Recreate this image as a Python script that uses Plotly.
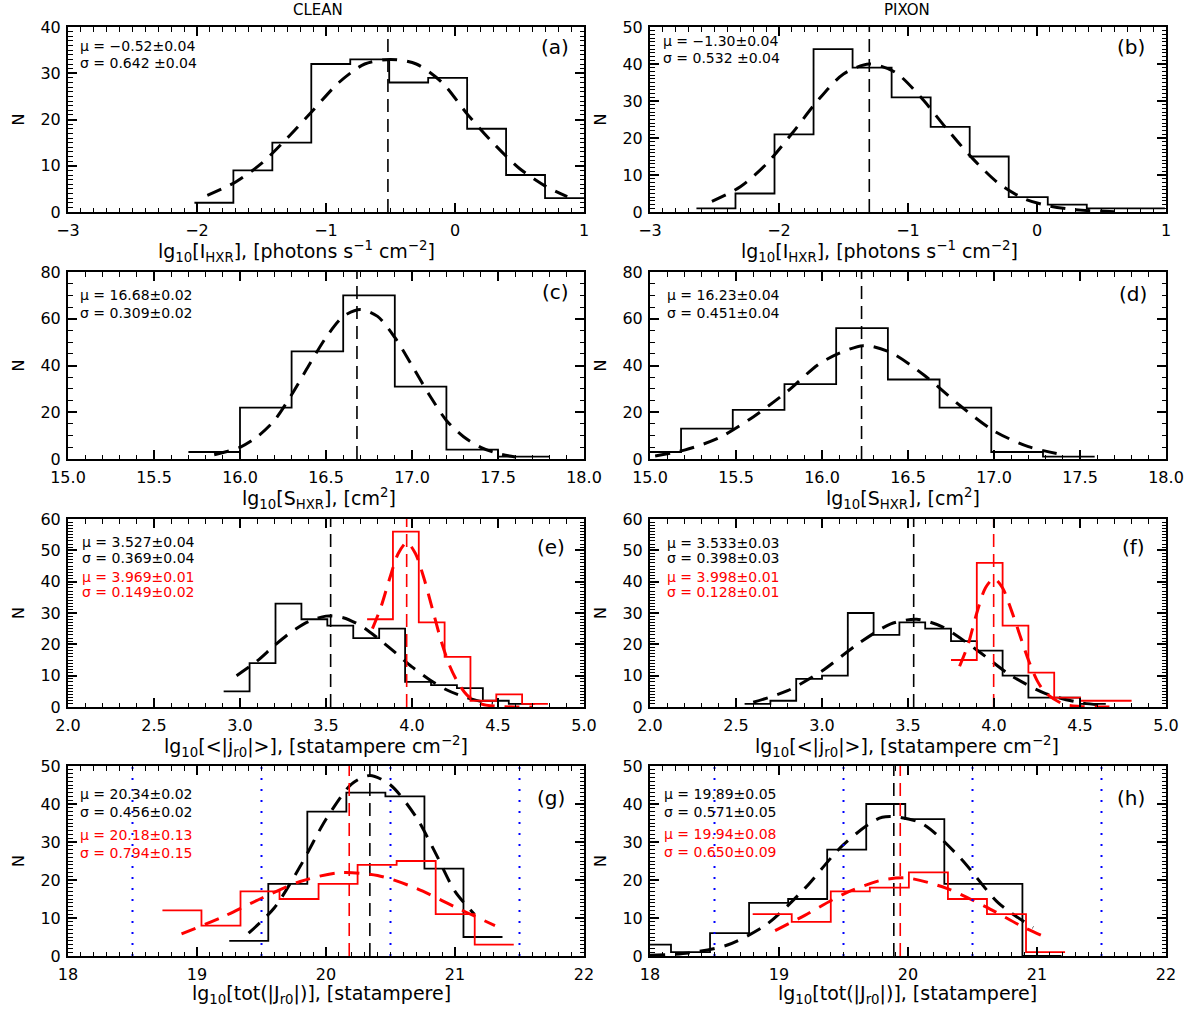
import plotly.graph_objects as go

W, H = 1190, 1012
FONT = "DejaVu Sans, Liberation Sans, Arial, sans-serif"

# ------------------------------------------------------------------ data
a_black_start, a_black_width = -2.02, 0.302
a_black_counts = [2, 9, 15, 32, 33, 28, 29, 18, 8, 3]
a_fit_x = [-1.92, -1.7, -1.5, -1.3, -1.1, -0.9, -0.7, -0.5, -0.3, -0.1, 0.1, 0.3, 0.5, 0.7, 0.87]
a_fit_y = [3.6, 6.5, 10.5, 16, 22, 28, 32, 33, 32, 28, 21, 14.8, 9.4, 5.6, 3.3]
a_mean = -0.52

b_black_start, b_black_width = -2.64, 0.3026
b_black_counts = [1, 5, 21, 44, 39, 31, 23, 15, 4, 2, 1, 1]
b_fit_x = [-2.52, -2.3, -2.1, -1.9, -1.7, -1.5, -1.3, -1.1, -0.9, -0.7, -0.5, -0.3, -0.1, 0.1, 0.3, 0.6]
b_fit_y = [2.9, 6.8, 12.9, 21.2, 30.1, 37.3, 40, 37.8, 31, 22.5, 14.5, 7.8, 3.6, 1.6, 0.6, 0.1]
b_mean = -1.30

c_black_start, c_black_width = 15.70, 0.30
c_black_counts = [3, 22, 46, 70, 31, 4, 1]
c_fit_x = [15.85, 16.0, 16.1, 16.2, 16.3, 16.4, 16.5, 16.6, 16.7, 16.8, 16.9, 17.0, 17.1, 17.2, 17.3, 17.4, 17.5, 17.6]
c_fit_y = [1.8, 5, 9.5, 16.5, 27.5, 40, 52, 61, 64, 61, 52, 40, 27.5, 16.5, 9.5, 5, 2.3, 0.9]
c_mean = 16.68

d_black_start, d_black_width = 14.88, 0.3006
d_black_counts = [3, 13, 21, 32, 56, 34, 22, 3, 1]
d_fit_x = [15.03, 15.2, 15.4, 15.6, 15.8, 16.0, 16.24, 16.4, 16.6, 16.8, 17.0, 17.2, 17.4]
d_fit_y = [1.3, 3.8, 9, 18, 29, 41.5, 48.5, 45.5, 35.5, 23, 12, 5.3, 1.8]
d_mean = 16.23

e_black_start, e_black_width = 2.905, 0.1507
e_black_counts = [5, 14, 33, 28, 26, 22, 25, 8, 7, 6, 2, 1]
e_red_start, e_red_width = 3.739, 0.1502
e_red_counts = [28, 56, 27, 16, 2, 4, 1]
e_fit_black_x = [2.98, 3.1, 3.2, 3.3, 3.4, 3.5, 3.6, 3.7, 3.8, 3.9, 4.0, 4.1, 4.2, 4.3, 4.4, 4.47]
e_fit_black_y = [10, 14.7, 19.6, 24, 27.3, 29, 28.5, 26, 22, 17.5, 12.8, 8.8, 5.5, 3.3, 1.8, 1.2]
e_fit_red_x = [3.77, 3.82, 3.87, 3.92, 3.97, 4.02, 4.07, 4.12, 4.17, 4.22, 4.27, 4.32, 4.4, 4.5, 4.6, 4.7]
e_fit_red_y = [25, 32, 41, 49, 52.5, 49, 41, 31, 21, 13, 7.5, 3.8, 1, 0.2, 0, 0]
e_mean_black, e_mean_red = 3.527, 3.969

f_black_start, f_black_width = 2.55, 0.15
f_black_counts = [1, 2, 9, 10, 30, 23, 27, 25, 21, 18, 10, 3, 3, 1]
f_red_start, f_red_width = 3.75, 0.15
f_red_counts = [15, 46, 26, 11, 3, 2, 2]
f_fit_black_x = [2.6, 2.8, 3.0, 3.2, 3.4, 3.55, 3.7, 3.9, 4.1, 4.3, 4.5, 4.65]
f_fit_black_y = [1.5, 5.2, 11.5, 19.8, 26.5, 28, 25.6, 18.2, 10, 4.3, 1.4, 0.5]
f_fit_red_x = [3.80, 3.85, 3.9, 3.95, 4.0, 4.05, 4.1, 4.15, 4.2, 4.25, 4.3, 4.4, 4.5, 4.6, 4.68]
f_fit_red_y = [13, 20, 30, 38, 41, 38, 31, 23, 15, 8.5, 4.5, 1, 0.2, 0, 0]
f_mean_black, f_mean_red = 3.533, 3.998

g_black_start, g_black_width = 19.25, 0.3026
g_black_counts = [4, 19, 38, 43, 42, 23, 5]
g_red_start, g_red_width = 18.732, 0.3026
g_red_counts = [12, 8, 17, 15, 19, 24, 25, 11, 3]
g_fit_black_x = [19.4, 19.6, 19.8, 20.0, 20.2, 20.34, 20.5, 20.7, 20.85, 21.0, 21.15]
g_fit_black_y = [6, 12.7, 23.6, 36, 45.3, 47.5, 45, 36.5, 27, 17, 11]
g_fit_red_x = [18.88, 19.2, 19.5, 19.8, 20.1, 20.4, 20.7, 21.0, 21.31]
g_fit_red_y = [5.8, 10.3, 15.2, 19.6, 21.9, 21.2, 17.8, 12.9, 8.0]
g_mean_black, g_mean_red = 20.34, 20.18

h_black_start, h_black_width = 17.86, 0.3027
h_black_counts = [3, 1, 6, 14, 15, 28, 40, 36, 19, 19, 0]
h_red_start, h_red_width = 18.796, 0.3027
h_red_counts = [11, 9, 17, 18, 22, 15, 11, 1]
h_fit_black_x = [18.0, 18.3, 18.6, 18.9, 19.2, 19.5, 19.8, 20.1, 20.4, 20.7, 20.97]
h_fit_black_y = [0.2, 0.8, 2.9, 8.2, 17.8, 29.3, 36.5, 35, 26, 14, 7.5]
h_fit_red_x = [18.97, 19.2, 19.5, 19.8, 20.0, 20.3, 20.6, 20.9, 21.09]
h_fit_red_y = [6.7, 10.7, 16.3, 20, 20.5, 17.8, 13, 7.5, 4.6]
h_mean_black, h_mean_red = 19.89, 19.94

blue_lines = [18.5, 19.5, 20.5, 21.5]

panel_labels = ["(a)", "(b)", "(c)", "(d)", "(e)", "(f)", "(g)", "(h)"]
column_titles = ["CLEAN", "PIXON"]

stats_black = [
    ["μ = −0.52±0.04", "σ = 0.642 ±0.04"],
    ["μ = −1.30±0.04", "σ = 0.532 ±0.04"],
    ["μ = 16.68±0.02", "σ = 0.309±0.02"],
    ["μ = 16.23±0.04", "σ = 0.451±0.04"],
    ["μ = 3.527±0.04", "σ = 0.369±0.04"],
    ["μ = 3.533±0.03", "σ = 0.398±0.03"],
    ["μ = 20.34±0.02", "σ = 0.456±0.02"],
    ["μ = 19.89±0.05", "σ = 0.571±0.05"],
]
stats_red = {
    4: ["μ = 3.969±0.01", "σ = 0.149±0.02"],
    5: ["μ = 3.998±0.01", "σ = 0.128±0.01"],
    6: ["μ = 20.18±0.13", "σ = 0.794±0.15"],
    7: ["μ = 19.94±0.08", "σ = 0.650±0.09"],
}

xtitle_hxr = "lg<sub>10</sub>[I<sub>HXR</sub>], [photons s<sup>−1</sup> cm<sup>−2</sup>]"
xtitle_s = "lg<sub>10</sub>[S<sub>HXR</sub>], [cm<sup>2</sup>]"
xtitle_j = "lg<sub>10</sub>[&lt;|j<sub>r0</sub>|&gt;], [statampere cm<sup>−2</sup>]"
xtitle_tot = "lg<sub>10</sub>[tot(|J<sub>r0</sub>|)], [statampere]"
x_titles = [xtitle_hxr, xtitle_hxr, xtitle_s, xtitle_s, xtitle_j, xtitle_j, xtitle_tot, xtitle_tot]

x_ranges = [[-3, 1], [-3, 1], [15, 18], [15, 18], [2, 5], [2, 5], [18, 22], [18, 22]]
x_dticks = [1, 1, 0.5, 0.5, 0.5, 0.5, 1, 1]
x_formats = ["", "", ".1f", ".1f", ".1f", ".1f", "", ""]
y_ranges = [[0, 40], [0, 50], [0, 80], [0, 80], [0, 60], [0, 60], [0, 50], [0, 50]]
y_dticks = [10, 10, 20, 20, 10, 10, 10, 10]
y_minor = [1, 1, 5, 5, 1, 1, 1, 1]

# ------------------------------------------------------------------ layout geometry (pixels)
col_px = [(68, 584), (650, 1166)]
row_px = [(27, 212), (272, 459), (519, 707), (766, 956)]
xtitle_cx = [296, 879, 319, 903, 316, 907, 321, 907]

fig = go.Figure()


def ax_names(i):
    s = "" if i == 0 else str(i + 1)
    return "x" + s, "y" + s


def hist_xy(start, width, counts):
    xs = [start + width * k for k in range(len(counts) + 1)]
    ys = list(counts) + [counts[-1]]
    return xs, ys


def add_hist(i, start, width, counts, color):
    xa, ya = ax_names(i)
    xs, ys = hist_xy(start, width, counts)
    fig.add_trace(go.Scatter(x=xs, y=ys, mode="lines", line=dict(color=color, width=1.8, shape="hv"),
                             xaxis=xa, yaxis=ya, showlegend=False, hoverinfo="skip"))


def add_fit(i, xs, ys, color):
    xa, ya = ax_names(i)
    fig.add_trace(go.Scatter(x=xs, y=ys, mode="lines",
                             line=dict(color=color, width=3, dash="15px,10px", shape="spline", smoothing=0.8),
                             xaxis=xa, yaxis=ya, showlegend=False, hoverinfo="skip"))


def add_vline(i, xv, color, dash="13px,7px", width=1.6):
    xa, ya = ax_names(i)
    fig.add_trace(go.Scatter(x=[xv, xv], y=y_ranges[i], mode="lines",
                             line=dict(color=color, width=width, dash=dash),
                             xaxis=xa, yaxis=ya, showlegend=False, hoverinfo="skip"))


add_hist(0, a_black_start, a_black_width, a_black_counts, "black")
add_fit(0, a_fit_x, a_fit_y, "black")
add_vline(0, a_mean, "black")

add_hist(1, b_black_start, b_black_width, b_black_counts, "black")
add_fit(1, b_fit_x, b_fit_y, "black")
add_vline(1, b_mean, "black")

add_hist(2, c_black_start, c_black_width, c_black_counts, "black")
add_fit(2, c_fit_x, c_fit_y, "black")
add_vline(2, c_mean, "black")

add_hist(3, d_black_start, d_black_width, d_black_counts, "black")
add_fit(3, d_fit_x, d_fit_y, "black")
add_vline(3, d_mean, "black")

add_hist(4, e_black_start, e_black_width, e_black_counts, "black")
add_fit(4, e_fit_black_x, e_fit_black_y, "black")
add_vline(4, e_mean_black, "black")
add_hist(4, e_red_start, e_red_width, e_red_counts, "red")
add_fit(4, e_fit_red_x, e_fit_red_y, "red")
add_vline(4, e_mean_red, "red")

add_hist(5, f_black_start, f_black_width, f_black_counts, "black")
add_fit(5, f_fit_black_x, f_fit_black_y, "black")
add_vline(5, f_mean_black, "black")
add_hist(5, f_red_start, f_red_width, f_red_counts, "red")
add_fit(5, f_fit_red_x, f_fit_red_y, "red")
add_vline(5, f_mean_red, "red")

add_hist(6, g_black_start, g_black_width, g_black_counts, "black")
add_fit(6, g_fit_black_x, g_fit_black_y, "black")
add_vline(6, g_mean_black, "black")
add_hist(6, g_red_start, g_red_width, g_red_counts, "red")
add_fit(6, g_fit_red_x, g_fit_red_y, "red")
add_vline(6, g_mean_red, "red")
for bx in blue_lines:
    add_vline(6, bx, "#0000ff", dash="2px,9px", width=2)

add_hist(7, h_black_start, h_black_width, h_black_counts, "black")
add_fit(7, h_fit_black_x, h_fit_black_y, "black")
add_vline(7, h_mean_black, "black")
add_hist(7, h_red_start, h_red_width, h_red_counts, "red")
add_fit(7, h_fit_red_x, h_fit_red_y, "red")
add_vline(7, h_mean_red, "red")
for bx in blue_lines:
    add_vline(7, bx, "#0000ff", dash="2px,9px", width=2)

# ------------------------------------------------------------------ axes
layout = dict(
    template="none",
    width=W, height=H, autosize=False,
    margin=dict(l=0, r=0, t=0, b=0, pad=0, autoexpand=False),
    paper_bgcolor="white", plot_bgcolor="white",
    font=dict(family=FONT, color="black", size=16),
    showlegend=False,
)

for i in range(8):
    r, c = divmod(i, 2)
    x0, x1 = col_px[c]
    y0, y1 = row_px[r]
    s = "" if i == 0 else str(i + 1)
    xa = dict(
        domain=[x0 / W, x1 / W], anchor="y" + s, range=x_ranges[i],
        dtick=x_dticks[i], tick0=x_ranges[i][0],
        showline=True, linewidth=2, linecolor="black", mirror="allticks",
        ticks="inside", ticklen=9, tickwidth=1.8, tickcolor="black",
        minor=dict(ticks="inside", ticklen=4.5, tickwidth=1.3, tickcolor="black", dtick=0.1, showgrid=False),
        showgrid=False, zeroline=False, tickfont=dict(size=16, family=FONT, color="black"),
        ticklabelstandoff=3,
        automargin=False, showticklabels=True,
    )
    if x_formats[i]:
        xa["tickformat"] = x_formats[i]
    ya = dict(
        domain=[1 - y1 / H, 1 - y0 / H], anchor="x" + s, range=y_ranges[i],
        dtick=y_dticks[i], tick0=0,
        showline=True, linewidth=2, linecolor="black", mirror="allticks",
        ticks="inside", ticklen=9, tickwidth=1.8, tickcolor="black",
        minor=dict(ticks="inside", ticklen=4.5, tickwidth=1.3, tickcolor="black", dtick=y_minor[i], showgrid=False),
        showgrid=False, zeroline=False, tickfont=dict(size=16, family=FONT, color="black"),
        ticklabelstandoff=2,
        automargin=False, showticklabels=True,
    )
    layout["xaxis" + s] = xa
    layout["yaxis" + s] = ya

annotations = []


def ann(text, xp, yp, size, color="black", xanchor="left", angle=0):
    annotations.append(dict(text=text, x=xp / W, y=1 - yp / H, xref="paper", yref="paper",
                            xanchor=xanchor, yanchor="middle", showarrow=False, textangle=angle,
                            font=dict(size=size, color=color, family=FONT)))


ann(column_titles[0], 318, 10, 15, xanchor="center")
ann(column_titles[1], 907, 10, 15, xanchor="center")

stat_pos = [
    (78, 46, 63), (661, 41, 58),
    (78, 295, 313), (665, 295, 313),
    (80, 542, 558), (665, 543, 558),
    (78, 794, 812), (662, 794, 812),
]
red_pos = {4: (80, 577, 592), 5: (665, 577, 592), 6: (78, 835, 853), 7: (662, 834, 852)}
label_pos = [(555, 47), (1131, 47), (555, 292), (1133, 294), (551, 547), (1133, 547), (551, 798), (1131, 798)]
xtitle_y = [251, 251, 498, 498, 746, 746, 994, 994]

for i in range(8):
    r, c = divmod(i, 2)
    xp, yl1, yl2 = stat_pos[i]
    ann(stats_black[i][0], xp, yl1, 14)
    ann(stats_black[i][1], xp, yl2, 14)
    if i in stats_red:
        xr, yr1, yr2 = red_pos[i]
        ann(stats_red[i][0], xr, yr1, 14, color="red")
        ann(stats_red[i][1], xr, yr2, 14, color="red")
    lx, ly = label_pos[i]
    ann(panel_labels[i], lx, ly, 20, xanchor="center")
    ann(x_titles[i], xtitle_cx[i], xtitle_y[i], 19, xanchor="center")
    y0, y1 = row_px[r]
    ann("N", 18 if c == 0 else 600, (y0 + y1) / 2, 16, xanchor="center", angle=-90)

layout["annotations"] = annotations
fig.update_layout(**layout)
fig.write_html("out.html", config={"responsive": False})
